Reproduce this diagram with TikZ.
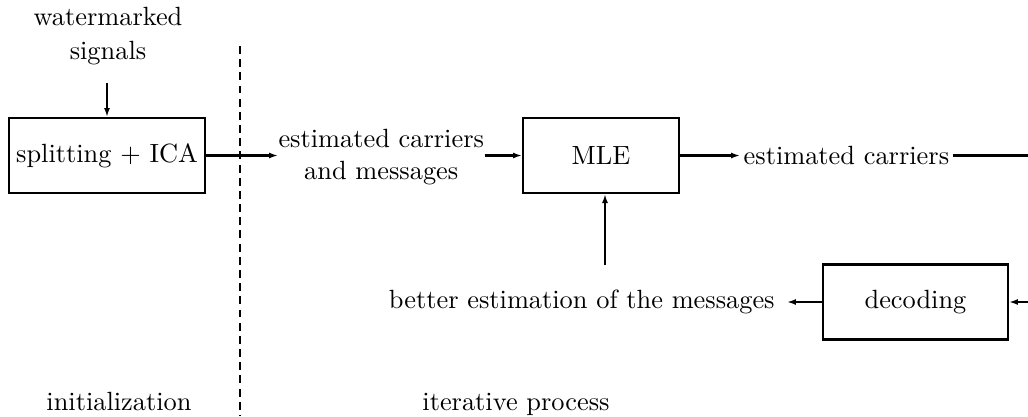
\documentclass[tikz,border=0pt]{standalone}
\usetikzlibrary{arrows.meta}
\begin{document}
\begin{tikzpicture}[x=0.01333cm,y=-0.01333cm,
  box/.style={draw,thick,minimum height=1cm,inner sep=0pt},
  lbl/.style={inner sep=0pt,align=center},
  arr/.style={thick,-{Latex[length=3.4pt,width=2.3pt]}},
  ln/.style={thick}]
\useasboundingbox (0,0) rectangle (1028,416);
% top-left input
\node[lbl] (ws) at (108,36) {watermarked\\[1pt]signals};
\coordinate (wsend) at (107,83);
\node[box,minimum width=2.613cm] (split) at (107,155.5) {splitting + ICA};
\draw[arr] (wsend) -- (split.north);
% dashed separator
\coordinate (dtop) at (240,46);
\coordinate (dbot) at (240,416);
\draw[thick,dash pattern=on 3pt off 2pt] (dtop) -- (dbot);
% estimated carriers and messages
\node[lbl,anchor=west] (ecm) at (278,157) {estimated carriers\\and messages};
\draw[arr] (split.east) -- (split.east -| ecm.west);
\node[box,minimum width=2.08cm] (mle) at (601,155.5) {MLE};
\draw[arr] (mle.west -| ecm.east) -- (mle.west);
\node[lbl,inner sep=1.2pt,anchor=west] (ec) at (740,155.5) {estimated carriers};
\draw[arr] (mle.east) -- (ec.west);
\coordinate (rtop) at (1028,155.5);
\draw[ln] (ec.east) -- (rtop);
% bottom row
\node[box,minimum width=2.466cm] (dec) at (915.5,302) {decoding};
\coordinate (rbot) at (1028,302);
\draw[arr] (rbot) -- (dec.east);
\node[lbl,inner sep=4.5pt,anchor=east] (better) at (787,302) {better estimation of the messages};
\draw[arr] (dec.west) -- (better.east);
\coordinate (up) at (605,265);
\draw[arr] (up) -- (up |- mle.south);
% bottom labels
\node[lbl,anchor=base] (init) at (119,410) {initialization};
\node[lbl,anchor=base] (iter) at (516,410) {iterative process};
\end{tikzpicture}
\end{document}
